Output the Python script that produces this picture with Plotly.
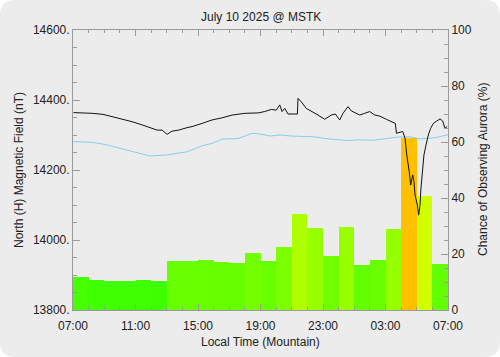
import pandas as pd
import plotly.graph_objects as go

# ---------------- data ----------------
title_text = "July 10 2025 @ MSTK"
start_time = "2025-07-10 07:00"
x_title = "Local Time (Mountain)"
left_title = "North (H) Magnetic Field (nT)"
right_title = "Chance of Observing Aurora (%)"

# hourly aurora chance (%), one bar per hour starting 07:00
bar_hours = list(range(24))
aurora_pct = [11.7, 10.7, 10.5, 10.5, 10.7, 10.4, 17.5, 17.6, 17.7, 17.3, 16.9, 20.2,
              17.5, 22.5, 34.2, 29.2, 19.3, 29.8, 16.2, 17.9, 28.9, 61.5, 40.6, 16.4]

# measured north (H) field, hours after 07:00 and nT
field_hours = [0.03, 1.09, 1.22, 1.92, 2.92, 3.78, 4.42, 5.06, 5.38, 5.70, 6.02, 6.34,
               6.76, 7.30, 7.62, 8.26, 8.90, 9.54, 10.18, 11.01, 11.84, 12.27, 12.69,
               13.01, 13.23, 13.38, 13.55, 13.76, 14.36, 14.40, 14.61, 14.93, 15.25,
               15.57, 16.11, 16.53, 16.79, 17.07, 17.28, 17.60, 17.81, 18.03, 18.35,
               18.67, 18.99, 19.31, 19.63, 20.05, 20.37, 20.63, 20.70, 21.10, 21.25,
               21.36, 21.52, 21.61, 21.74, 21.82, 21.89, 22.04, 22.12, 22.21, 22.27,
               22.36, 22.46, 22.59, 22.74, 22.89, 23.06, 23.28, 23.49, 23.66, 23.81,
               23.95]
field_nt = [14364, 14364, 14362, 14359, 14348, 14338, 14329, 14319, 14314, 14314, 14302,
            14311, 14314, 14321, 14324, 14333, 14343, 14349, 14357, 14362, 14363, 14367,
            14373, 14371, 14386, 14367, 14376, 14360, 14360, 14405, 14395, 14376, 14369,
            14360, 14345, 14357, 14360, 14343, 14362, 14381, 14369, 14364, 14357, 14362,
            14367, 14357, 14354, 14345, 14338, 14333, 14305, 14310, 14291, 14243, 14195,
            14157, 14186, 14167, 14129, 14100, 14071, 14100, 14148, 14186, 14243, 14271,
            14300, 14319, 14333, 14340, 14346, 14340, 14319, 14324]

# quiet-day baseline, hours after 07:00 and nT
baseline_hours = [0.0, 1.22, 2.05, 3.01, 4.10, 4.93, 6.02, 7.30, 8.32, 8.90, 9.54, 10.56,
                  11.46, 12.10, 12.61, 13.25, 13.95, 15.36, 16.13, 17.54, 18.24, 19.20,
                  20.80, 21.57, 22.21, 23.17, 24.0]
baseline_nt = [14281, 14279, 14273, 14262, 14248, 14240, 14243, 14252, 14270, 14276, 14288,
               14290, 14305, 14302, 14297, 14300, 14297, 14295, 14290, 14284, 14286, 14285,
               14294, 14295, 14289, 14292, 14301]

# axis ticks
nt_ticks = [13800, 14000, 14200, 14400, 14600]
nt_labels = ["13800.", "14000.", "14200.", "14400.", "14600."]
pct_ticks = [0, 20, 40, 60, 80, 100]

# ---------------- figure ----------------
t0 = pd.Timestamp(start_time)
HOUR_MS = 3600000


def to_time(hours):
    return [t0 + pd.Timedelta(hours=h) for h in hours]


W, H = 500, 357
L, R, T, B = 73, 52, 30, 47
pw, ph = W - L - R, H - T - B
bg = "#ececec"
axis_col = "#9a9a9a"
text_col = "#222222"


def px(x):
    return (x - L) / pw


def py(y):
    return (H - B - y) / ph


# rounded background panel (pixel corners -> paper coords)
rad = 15
x0, x1, y0, y1 = 0, W, 0, H
path = (
    f"M {px(x0 + rad)},{py(y0)} L {px(x1 - rad)},{py(y0)} "
    f"Q {px(x1)},{py(y0)} {px(x1)},{py(y0 + rad)} "
    f"L {px(x1)},{py(y1 - rad)} Q {px(x1)},{py(y1)} {px(x1 - rad)},{py(y1)} "
    f"L {px(x0 + rad)},{py(y1)} Q {px(x0)},{py(y1)} {px(x0)},{py(y1 - rad)} "
    f"L {px(x0)},{py(y0 + rad)} Q {px(x0)},{py(y0)} {px(x0 + rad)},{py(y0)} Z"
)

colorscale = [
    [0.0, "#00ff00"],
    [0.10, "#3cff00"],
    [0.17, "#66ff00"],
    [0.30, "#99ff00"],
    [0.40, "#ccff00"],
    [0.50, "#ffff00"],
    [0.615, "#ffc000"],
    [1.0, "#ff3000"],
]

fig = go.Figure()
fig.add_trace(go.Bar(
    x=[t0 + pd.Timedelta(hours=h + 0.5) for h in bar_hours],
    y=aurora_pct,
    width=HOUR_MS,
    marker=dict(color=aurora_pct, colorscale=colorscale, cmin=0, cmax=100,
                line=dict(width=0)),
    yaxis="y",
    hoverinfo="skip",
))
fig.add_trace(go.Scatter(
    x=to_time(baseline_hours), y=baseline_nt, mode="lines",
    line=dict(color="rgb(135,206,235)", width=1), yaxis="y2",
))
fig.add_trace(go.Scatter(
    x=to_time(field_hours), y=field_nt, mode="lines",
    line=dict(color="#111111", width=1), yaxis="y2",
))

font = dict(family="Liberation Sans, Arial, sans-serif", size=12, color=text_col)

annotations = [
    dict(text=title_text, xref="paper", yref="paper", x=0.5, y=py(17),
         xanchor="center", yanchor="middle", showarrow=False, font=font),
    dict(text=x_title, xref="paper", yref="paper", x=0.5, y=py(342),
         xanchor="center", yanchor="middle", showarrow=False, font=font),
    dict(text=left_title, xref="paper", yref="paper", x=px(19), y=0.5,
         xanchor="center", yanchor="middle", textangle=-90, showarrow=False, font=font),
    dict(text=right_title, xref="paper", yref="paper", x=px(483), y=0.5,
         xanchor="center", yanchor="middle", textangle=-90, showarrow=False, font=font),
]

fig.update_layout(
    width=W, height=H,
    margin=dict(l=L, r=R, t=T, b=B, autoexpand=False),
    paper_bgcolor="white",
    plot_bgcolor="rgba(0,0,0,0)",
    showlegend=False,
    bargap=0,
    font=font,
    shapes=[dict(type="path", xref="paper", yref="paper", path=path,
                 fillcolor=bg, line=dict(width=0), layer="below")],
    annotations=annotations,
    xaxis=dict(
        type="date",
        range=[t0, t0 + pd.Timedelta(hours=24)],
        tickformat="%H:%M", tick0=t0, dtick=4 * HOUR_MS,
        ticks="inside", ticklen=6, tickcolor=axis_col,
        showline=True, linecolor=axis_col, linewidth=1, mirror="ticks",
        showgrid=False, zeroline=False,
        minor=dict(ticks="inside", ticklen=3, dtick=HOUR_MS, tick0=t0,
                   tickcolor=axis_col, showgrid=False),
        tickfont=font, ticklabelstandoff=5,
    ),
    yaxis=dict(
        range=[0, 100], side="right", tickmode="array", tickvals=pct_ticks,
        ticks="inside", ticklen=7, tickcolor=axis_col,
        showline=True, linecolor=axis_col, linewidth=1,
        showgrid=False, zeroline=False,
        minor=dict(ticks="inside", ticklen=4, tickmode="linear", tick0=0, dtick=5,
                   tickcolor=axis_col, showgrid=False),
        tickfont=font,
    ),
    yaxis2=dict(
        range=[13800, 14600], side="left", overlaying="y", anchor="x",
        tickmode="array", tickvals=nt_ticks, ticktext=nt_labels,
        ticks="inside", ticklen=7, tickcolor=axis_col,
        showline=True, linecolor=axis_col, linewidth=1,
        showgrid=False, zeroline=False,
        minor=dict(ticks="inside", ticklen=4, tickmode="linear", tick0=13800, dtick=50,
                   tickcolor=axis_col, showgrid=False),
        tickfont=font,
    ),
)

fig.write_html(
    "out.html",
    config={"displayModeBar": False},
    post_script="document.body.style.margin='0';document.body.style.overflow='hidden';",
)
